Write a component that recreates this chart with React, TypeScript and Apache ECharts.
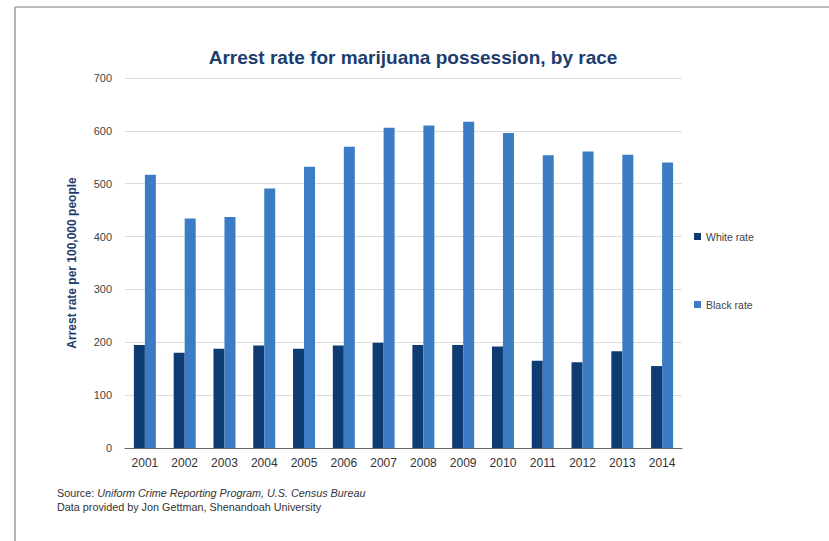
import React, { useEffect, useRef } from "react";
import * as echarts from "echarts";

const years = ["2001","2002","2003","2004","2005","2006","2007","2008","2009","2010","2011","2012","2013","2014"];
const whiteRate = [195, 180, 188, 194, 188, 194, 199, 195, 195, 192, 165, 162, 183, 155];
const blackRate = [517, 434, 437, 491, 532, 570, 606, 610, 617, 596, 554, 561, 555, 540];
const seriesNames = ["White rate", "Black rate"];
const titleText = "Arrest rate for marijuana possession, by race";
const yAxisName = "Arrest rate per 100,000 people";
const sourceLine1a = "Source: ";
const sourceLine1b = "Uniform Crime Reporting Program, U.S. Census Bureau";
const sourceLine2 = "Data provided by Jon Gettman, Shenandoah University";

export default function App() {
  const ref = useRef<HTMLDivElement>(null);
  useEffect(() => {
    if (!ref.current) return;
    const chart = echarts.init(ref.current, null, { renderer: "svg" });
    const font = "'Liberation Sans', Arial, sans-serif";
    chart.setOption({
      animation: false,
      backgroundColor: "#ffffff",
      textStyle: { fontFamily: font },
      title: {
        text: titleText,
        left: 408,
        textAlign: "center",
        top: 43,
        textStyle: { fontSize: 19, fontWeight: "bold", color: "#1c3d6e", fontFamily: font },
      },
      legend: {
        orient: "vertical",
        left: 689,
        top: 226,
        itemGap: 57,
        itemWidth: 7,
        itemHeight: 7,
        icon: "rect",
        data: seriesNames,
        textStyle: { fontSize: 10.5, color: "#444", fontFamily: font },
      },
      grid: { left: 125, right: 147, top: 78, bottom: 93, containLabel: false },
      xAxis: {
        type: "category",
        data: years,
        axisTick: { show: false },
        axisLine: { lineStyle: { color: "#666", width: 1 } },
        axisLabel: { color: "#333", fontSize: 12, margin: 9, fontFamily: font },
      },
      yAxis: {
        type: "value",
        min: 0,
        max: 700,
        interval: 100,
        name: yAxisName,
        nameLocation: "middle",
        nameRotate: 90,
        nameGap: 47,
        nameTextStyle: { fontSize: 12, color: "#1c3d6e", fontWeight: "bold", fontFamily: font },
        axisLine: { show: false },
        axisTick: { show: false },
        axisLabel: { color: "#444", fontSize: 11, margin: 13, fontFamily: font },
        splitLine: { lineStyle: { color: "#dcdcdc", width: 1 } },
      },
      series: [
        {
          name: seriesNames[0],
          type: "bar",
          data: whiteRate,
          barWidth: 11,
          barGap: "0%",
          itemStyle: { color: "#0e3b72" },
        },
        {
          name: seriesNames[1],
          type: "bar",
          data: blackRate,
          barWidth: 11,
          barGap: "0%",
          itemStyle: { color: "#3b7cc4" },
        },
      ],
      graphic: [
        { type: "line", shape: { x1: 15, y1: 7, x2: 829, y2: 7 }, style: { stroke: "#bdbdbd", lineWidth: 2 } },
        { type: "line", shape: { x1: 15, y1: 7, x2: 15, y2: 541 }, style: { stroke: "#9e9e9e", lineWidth: 1.5 } },
        {
          type: "text",
          left: 57,
          top: 487,
          style: {
            text: "{n|" + sourceLine1a + "}{i|" + sourceLine1b + "}",
            rich: {
              n: { fontSize: 10.8, fill: "#333", fontFamily: font },
              i: { fontSize: 10.8, fill: "#333", fontStyle: "italic", fontFamily: font },
            },
          },
        },
        {
          type: "text",
          left: 57,
          top: 501,
          style: { text: sourceLine2, fontSize: 10.8, fill: "#333", fontFamily: font },
        },
      ],
    });
    return () => chart.dispose();
  }, []);
  return <div ref={ref} style={{ width: 829, height: 541, position: "absolute", left: 0, top: 0 }} />;
}
